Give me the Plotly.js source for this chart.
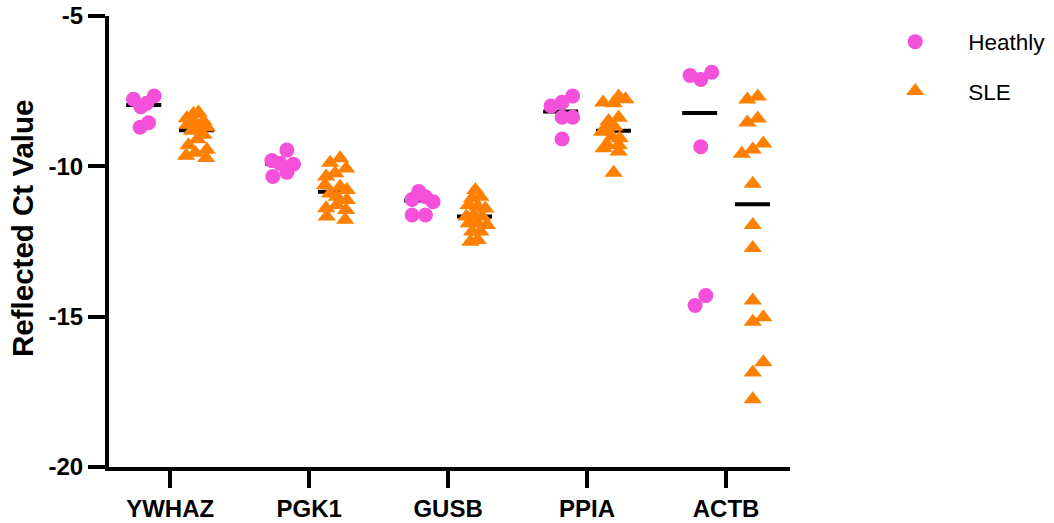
<!DOCTYPE html>
<html>
<head>
<meta charset="utf-8">
<script src="https://cdn.plot.ly/plotly-3.0.1.min.js"></script>
<style>
  html, body { margin: 0; padding: 0; background: #ffffff; }
  #chart { width: 1054px; height: 523px; }
</style>
</head>
<body>
<div id="chart"></div>
<script>
// ---- Data ----
const genes = ['YWHAZ', 'PGK1', 'GUSB', 'PPIA', 'ACTB'];
const yTickVals = [-20, -15, -10, -5];
const yTitle = 'Reflected Ct Value';

// Healthy group, reflected Ct values
const healthyYWHAZ = [-7.77, -7.66, -8.02, -7.90, -8.55, -8.70];
const healthyPGK1  = [-9.46, -9.81, -9.90, -9.93, -10.34, -10.20];
const healthyGUSB  = [-10.84, -11.10, -11.01, -11.18, -11.62, -11.62];
const healthyPPIA  = [-7.99, -7.87, -7.66, -8.37, -8.37, -9.09];
const healthyACTB  = [-6.98, -7.11, -6.87, -9.35, -14.30, -14.63];

// SLE group, reflected Ct values
const sleYWHAZ = [-8.21, -8.25, -8.40, -8.50, -8.55, -8.62, -8.70, -8.78, -8.82, -8.95, -9.10, -9.30, -9.45, -9.55, -9.65, -9.72];
const slePGK1  = [-9.88, -9.73, -10.07, -10.34, -10.23, -10.62, -10.68, -10.79, -10.90, -11.01, -11.12, -11.39, -11.29, -11.45, -11.67, -11.78];
const sleGUSB  = [-10.79, -11.06, -11.01, -11.29, -11.34, -11.40, -11.67, -11.62, -11.67, -11.89, -11.89, -11.95, -12.17, -12.17, -12.51, -12.45];
const slePPIA  = [-7.88, -7.90, -7.68, -7.77, -8.49, -8.38, -8.78, -8.68, -8.85, -9.01, -9.07, -9.29, -9.29, -9.40, -9.51, -10.21];
const sleACTB  = [-7.78, -7.68, -8.54, -8.41, -9.58, -9.44, -9.24, -10.58, -11.95, -12.72, -14.46, -15.02, -15.17, -16.52, -16.86, -17.75];

// Horizontal scatter (jitter) of each dot, in category units
const healthyJitYWHAZ = [-0.264, -0.115, -0.211, -0.168, -0.156, -0.216];
const healthyJitPGK1  = [-0.160, -0.268, -0.209, -0.113, -0.261, -0.160];
const healthyJitGUSB  = [-0.211, -0.259, -0.163, -0.108, -0.259, -0.163];
const healthyJitPPIA  = [-0.259, -0.180, -0.104, -0.180, -0.104, -0.180];
const healthyJitACTB  = [-0.259, -0.182, -0.103, -0.182, -0.146, -0.223];

const sleJitYWHAZ = [0.204, 0.168, 0.120, 0.240, 0.180, 0.124, 0.264, 0.204, 0.156, 0.240, 0.196, 0.132, 0.264, 0.180, 0.115, 0.259];
const sleJitPGK1  = [0.151, 0.223, 0.266, 0.122, 0.187, 0.115, 0.223, 0.271, 0.151, 0.199, 0.271, 0.122, 0.199, 0.266, 0.127, 0.259];
const sleJitGUSB  = [0.196, 0.173, 0.232, 0.148, 0.213, 0.268, 0.132, 0.184, 0.245, 0.148, 0.213, 0.280, 0.173, 0.232, 0.160, 0.213];
const sleJitPPIA  = [0.115, 0.191, 0.227, 0.276, 0.155, 0.227, 0.139, 0.196, 0.108, 0.180, 0.235, 0.144, 0.227, 0.119, 0.227, 0.191];
const sleJitACTB  = [0.153, 0.228, 0.153, 0.228, 0.113, 0.192, 0.268, 0.192, 0.192, 0.192, 0.192, 0.268, 0.192, 0.268, 0.192, 0.192];

// ---- Build traces ----
const healthySets = [healthyYWHAZ, healthyPGK1, healthyGUSB, healthyPPIA, healthyACTB];
const sleSets = [sleYWHAZ, slePGK1, sleGUSB, slePPIA, sleACTB];
const healthyJits = [healthyJitYWHAZ, healthyJitPGK1, healthyJitGUSB, healthyJitPPIA, healthyJitACTB];
const sleJits = [sleJitYWHAZ, sleJitPGK1, sleJitGUSB, sleJitPPIA, sleJitACTB];

const FONT = 'Arial, "Liberation Sans", Helvetica, sans-serif';
const PINK = '#F550D9';
const ORANGE = '#FF7F00';
const HEALTHY_CENTER = -0.19;
const SLE_CENTER = 0.19;
const HALF_BAR = 0.126;

function median(arr) {
  const s = arr.slice().sort((a, b) => a - b);
  const n = s.length;
  return n % 2 ? s[(n - 1) / 2] : (s[n / 2 - 1] + s[n / 2]) / 2;
}

function medianLine(sets, center) {
  const x = [], y = [];
  sets.forEach((vals, i) => {
    const m = median(vals);
    x.push(i + center - HALF_BAR, i + center + HALF_BAR, null);
    y.push(m, m, null);
  });
  return { type: 'scatter', mode: 'lines', x, y, showlegend: false, hoverinfo: 'skip',
           line: { color: '#000000', width: 4 } };
}

function dots(sets, jits, name, color, symbol, size) {
  const x = [], y = [];
  sets.forEach((vals, i) => {
    vals.forEach((v, k) => { x.push(i + jits[i][k]); y.push(v); });
  });
  return { type: 'scatter', mode: 'markers', x, y, name, legendgroup: name,
           marker: { color, symbol, size, line: { width: 0 } } };
}

const traces = [
  medianLine(healthySets, HEALTHY_CENTER),
  medianLine(sleSets, SLE_CENTER),
  dots(healthySets, healthyJits, 'Heathly', PINK, 'circle', 15),
  dots(sleSets, sleJits, 'SLE', ORANGE, 'triangle-up', 16)
];

const axisCommon = {
  showline: true, linecolor: '#000000', linewidth: 4,
  ticks: 'outside', ticklen: 17, tickwidth: 4, tickcolor: '#000000',
  showgrid: false, zeroline: false, fixedrange: true,
  tickfont: { family: FONT, size: 24, color: '#000000', weight: 'bold' }
};

const layout = {
  width: 1054, height: 523,
  margin: { l: 109, r: 264, t: 16, b: 56, pad: 0, autoexpand: false },
  paper_bgcolor: '#ffffff', plot_bgcolor: '#ffffff',
  font: { family: FONT, color: '#000000' },
  xaxis: Object.assign({}, axisCommon, {
    range: [-0.44, 4.46], tickmode: 'array',
    tickvals: genes.map((g, i) => i), ticktext: genes
  }),
  yaxis: Object.assign({}, axisCommon, {
    range: [-20, -5], tickmode: 'array', tickvals: yTickVals,
    ticktext: yTickVals.map(String)
  }),
  annotations: [{
    text: yTitle, textangle: -90, showarrow: false,
    xref: 'paper', yref: 'paper', x: -0.127, y: 0.529,
    xanchor: 'center', yanchor: 'middle',
    font: { family: FONT, size: 29.5, color: '#000000', weight: 'bold' }
  }],
  showlegend: true,
  legend: {
    x: 1.106, xanchor: 'left', y: 0.99, yanchor: 'top',
    font: { family: FONT, size: 22.5, color: '#000000' },
    itemwidth: 96, tracegroupgap: 17, traceorder: 'grouped',
    bgcolor: 'rgba(0,0,0,0)', borderwidth: 0
  }
};

Plotly.newPlot('chart', traces, layout, { staticPlot: true, displayModeBar: false });
</script>
</body>
</html>
